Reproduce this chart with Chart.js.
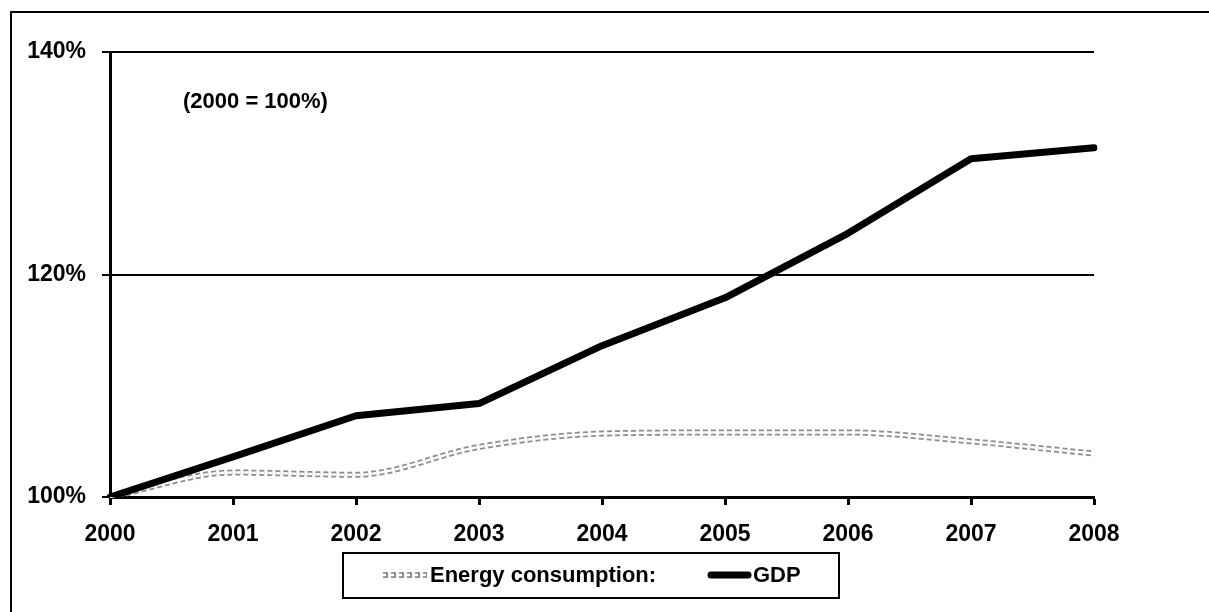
<!DOCTYPE html>
<html>
<head>
<meta charset="utf-8">
<script src="https://cdn.jsdelivr.net/npm/chart.js@4.4.0/dist/chart.umd.min.js"></script>
<style>
    body { margin: 0; background: #fff; }
    canvas { display: block; }
</style>
</head>
<body>
<canvas id="gdpChart" width="1209" height="612"></canvas>
<script>
// ===== data =====
const years = ['2000', '2001', '2002', '2003', '2004', '2005', '2006', '2007', '2008'];
const energyValues = [100, 102.2, 102.0, 104.5, 105.7, 105.8, 105.8, 105.0, 103.9];
const gdpValues = [100, 103.6, 107.3, 108.4, 113.6, 117.9, 123.7, 130.4, 131.4];
const yTicks = [100, 120, 140];
const seriesNames = ['Energy consumption:', 'GDP'];
const noteText = '(2000 = 100%)';

const FONT = '"Liberation Sans", Arial, sans-serif';
Chart.defaults.font.family = FONT;
Chart.defaults.color = '#000';

// ===== energy line: gray dashed double line (white stroke through the middle) =====
const doubleLine = {
    id: 'doubleLine',
    afterDatasetDraw(chart, args) {
        if (args.index !== 0) return;
        const line = args.meta.dataset;
        const o = line.options;
        const keepColor = o.borderColor, keepWidth = o.borderWidth;
        o.borderColor = '#fff';
        o.borderWidth = 2.5;
        line.draw(chart.ctx, chart.chartArea);
        o.borderColor = keepColor;
        o.borderWidth = keepWidth;
    }
};

// ===== frame, note text and boxed legend =====
const decorations = {
    id: 'decorations',
    afterDraw(chart) {
        const ctx = chart.ctx;
        ctx.save();

        // outer frame (only left / top edges visible)
        ctx.strokeStyle = '#000';
        ctx.lineWidth = 2;
        ctx.beginPath();
        ctx.moveTo(11, 612);
        ctx.lineTo(11, 12);
        ctx.lineTo(1209, 12);
        ctx.stroke();

        // note
        ctx.fillStyle = '#000';
        ctx.font = 'bold 22px ' + FONT;
        ctx.textBaseline = 'middle';
        ctx.textAlign = 'left';
        ctx.fillText(noteText, 183, 102);

        // legend box
        ctx.lineWidth = 2;
        ctx.strokeRect(343, 553, 496, 45);
        const ly = 575;

        // energy sample
        ctx.setLineDash([5, 3]);
        ctx.strokeStyle = '#8c8c8c';
        ctx.lineWidth = 6;
        ctx.beginPath(); ctx.moveTo(383, ly); ctx.lineTo(427, ly); ctx.stroke();
        ctx.strokeStyle = '#fff';
        ctx.lineWidth = 2.5;
        ctx.beginPath(); ctx.moveTo(381, ly); ctx.lineTo(429, ly); ctx.stroke();
        ctx.setLineDash([]);

        // gdp sample
        ctx.strokeStyle = '#000';
        ctx.lineWidth = 7;
        ctx.lineCap = 'round';
        ctx.beginPath(); ctx.moveTo(711, ly); ctx.lineTo(748, ly); ctx.stroke();

        ctx.fillText(seriesNames[0], 430, ly + 1);
        ctx.fillText(seriesNames[1], 753, ly + 1);
        ctx.restore();
    }
};

const ctx = document.getElementById('gdpChart').getContext('2d');

const gdpChart = new Chart(ctx, {
    type: 'line',
    data: {
        labels: years,
        datasets: [
            {
                label: seriesNames[0],
                data: energyValues,
                borderColor: '#8c8c8c',
                borderWidth: 6,
                borderDash: [5, 3],
                cubicInterpolationMode: 'monotone',
                pointRadius: 0,
                fill: false,
                order: 2
            },
            {
                label: seriesNames[1],
                data: gdpValues,
                borderColor: '#000',
                borderWidth: 7,
                borderCapStyle: 'round',
                borderJoinStyle: 'round',
                tension: 0,
                pointRadius: 0,
                fill: false,
                order: 1
            }
        ]
    },
    options: {
        responsive: false,
        animation: false,
        layout: { padding: { left: 0, top: 52, right: 115, bottom: 70 } },
        plugins: {
            legend: { display: false },
            tooltip: { enabled: false }
        },
        scales: {
            x: {
                grid: {
                    drawOnChartArea: false,
                    drawTicks: true,
                    tickLength: 8,
                    tickWidth: 3,
                    tickColor: '#000'
                },
                border: { display: true, color: '#000', width: 3 },
                ticks: {
                    font: { size: 23, weight: 'bold' },
                    padding: 16,
                    maxRotation: 0,
                    autoSkip: false
                },
                afterFit: s => { s.height = 45; }
            },
            y: {
                min: 100,
                max: 140,
                afterBuildTicks: s => { s.ticks = yTicks.map(v => ({ value: v })); },
                grid: {
                    color: '#000',
                    lineWidth: 2,
                    tickLength: 8,
                    tickWidth: 2,
                    tickColor: '#000'
                },
                border: { display: true, color: '#000', width: 3 },
                ticks: {
                    font: { size: 23, weight: 'bold' },
                    padding: 16,
                    callback: v => v + '%'
                },
                afterFit: s => { s.width = 110; }
            }
        }
    },
    plugins: [doubleLine, decorations]
});
</script>
</body>
</html>
